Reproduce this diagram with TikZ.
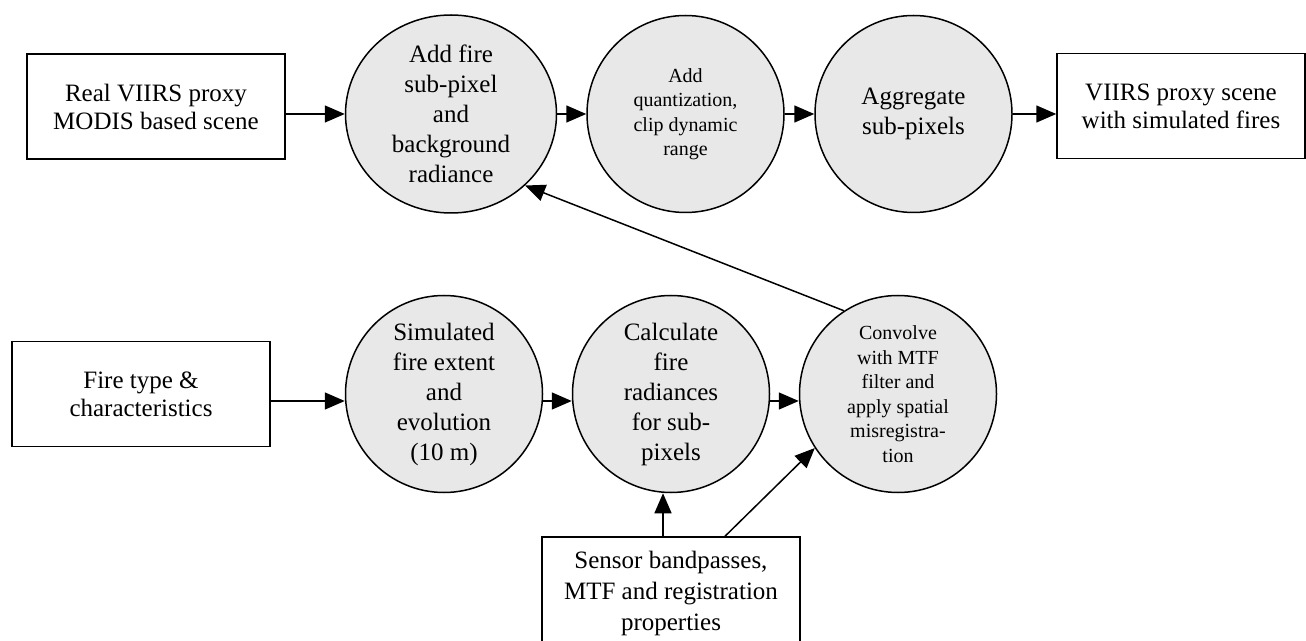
\documentclass[tikz,border=0pt]{standalone}
\usepackage{fontspec}
\setmainfont{Liberation Serif}
\usetikzlibrary{arrows.meta,shapes.geometric}
\definecolor{circfill}{RGB}{232,232,232}
\begin{document}
\begin{tikzpicture}[x=0.5pt,y=-0.5pt,
  box/.style={draw,line width=0.75pt,minimum width=129pt,minimum height=52.5pt,inner sep=0pt,align=center,font=\fontsize{12.5}{14}\selectfont},
  procbase/.style={draw,line width=0.75pt,fill=circfill,inner sep=0pt,align=center,font=\fontsize{12.5}{15}\selectfont},
  proc/.style={procbase,circle,minimum size=98.5pt},
  procs/.style={proc,font=\fontsize{10}{12.25}\selectfont},
  arr/.style={-{Triangle[length=10pt,width=8.5pt]},line width=0.75pt}]
\clip (0,0) rectangle (1306,641);
\fill[white] (0,0) rectangle (1306,641);
% top row
\node[box] (real) at (156,106.5) {Real VIIRS proxy\\MODIS based scene};
\node[procbase,ellipse,minimum width=105.5pt,minimum height=99pt] (addfire) at (451,114) {Add fire\\sub-pixel\\and\\background\\radiance};
\node[procs] (quant) at (685.5,114) {Add\\quantization,\\clip dynamic\\range};
\node[proc] (aggr) at (913.5,114) {Aggregate\\sub-pixels};
\node[box,minimum width=124pt] (out) at (1181,106) {VIIRS proxy scene\\with simulated fires};
% bottom row
\node[box] (fire) at (141,394) {Fire type \&\\characteristics};
\node[proc] (sim) at (444,394) {Simulated\\fire extent\\and\\evolution\\(10 m)};
\node[proc] (calc) at (671,394) {Calculate\\fire\\radiances\\for sub-\\pixels};
\node[procs] (conv) at (898,394) {Convolve\\with MTF\\filter and\\apply spatial\\misregistra-\\tion};
\node[box,minimum height=56pt,font=\fontsize{12.5}{15.5}\selectfont] (sens) at (671,593) {Sensor bandpasses,\\MTF and registration\\properties};
% connectors
\draw[arr] (real.east |- addfire.west) -- (addfire.west);
\draw[arr] (addfire) -- (quant);
\draw[arr] (quant) -- (aggr);
\draw[arr] (aggr.east) -- (aggr.east -| out.west);
\draw[arr] ([yshift=-3.5pt]fire.east) -- ([yshift=-3.5pt]sim.west);
\draw[arr] ([yshift=-3.5pt]sim.east) -- ([yshift=-3.5pt]calc.west);
\draw[arr] ([yshift=-3.5pt]calc.east) -- ([yshift=-3.5pt]conv.west);
\draw[arr] (conv.123) -- (addfire.-44);
\draw[arr] ([xshift=-4pt]sens.north) -- ([xshift=-4pt]calc.south);
\draw[arr] ([xshift=27pt]sens.north) -- (conv.213);
\end{tikzpicture}
\end{document}
